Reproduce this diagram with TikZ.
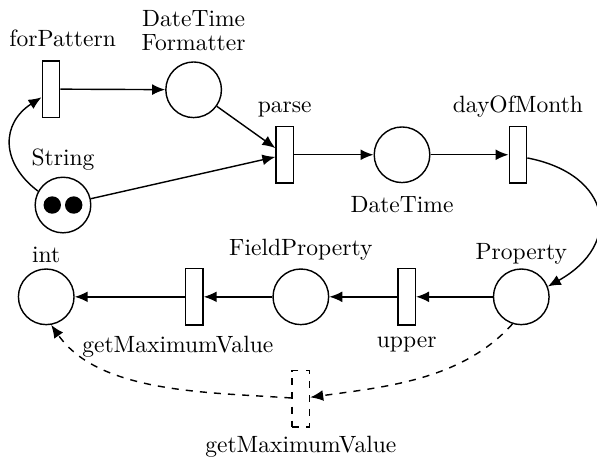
\documentclass[tikz,border=0pt]{standalone}
\usepackage{tikz}
\usetikzlibrary{positioning,arrows.meta}
\tikzset{
every picture/.style={
line width=0.6pt
}}

\begin{document}
\begin{tikzpicture}[auto, >={Latex[length=5.5pt,width=4.6pt]}, node distance=2pt,
place/.style = {circle, draw=black, minimum size=0.83cm, inner sep=0pt},
trans/.style = {rectangle, draw=black, minimum width=0.26cm, minimum height=0.84cm, inner sep=0pt},
lbl/.style = {text depth=0pt, align=center}]
\useasboundingbox (0,0) rectangle (8.91,-6.82);
% upper row
\node[trans] at (0.76,-1.33) (fp) {};
\node[place] at (2.89,-1.34) (dtf) {};
\node[place] at (0.94,-3.06) (str) {};
\node[trans] at (4.25,-2.31) (parse) {};
\node[place] at (6.00,-2.31) (dt) {};
\node[trans] at (7.73,-2.31) (dom) {};
% lower row
\node[place] at (7.78,-4.43) (prop) {};
\node[trans] at (6.07,-4.43) (upper) {};
\node[place] at (4.49,-4.43) (fprop) {};
\node[trans] at (2.90,-4.43) (gmv) {};
\node[place] at (0.69,-4.43) (int) {};
\node[trans, dashed] at (4.49,-5.95) (gmvb) {};
% tokens
\fill ([xshift=-0.16cm]str.center) circle (0.13cm);
\fill ([xshift=0.16cm]str.center) circle (0.13cm);

\node[lbl] (fpl) [above=of fp, xshift=5pt] {forPattern};
\node[lbl] (dtfl) [above=1pt of dtf] {DateTime\\[-2pt]Formatter};
\node[lbl] (strl) [above=1pt of str] {String};
\node[lbl] (parsel) [above=of parse] {parse};
\node[lbl] (dtl) [below=of dt] {DateTime};
\node[lbl] (doml) [above=of dom] {dayOfMonth};
\node[lbl] (propl) [above=0pt of prop] {Property};
\node[lbl] (upperl) [below=1pt of upper] {upper};
\node[lbl] (fpropl) [above=of fprop] {FieldProperty};
\node[lbl] (gmvl) [below=1pt of gmv, xshift=-7pt] {getMaximumValue};
\node[lbl] (intl) [above=-1pt of int] {int};
\node[lbl] (gmvbl) [below=0pt of gmvb] {getMaximumValue};

\draw[->] (str) to[bend left=55, looseness=1.3] (fp);
\draw[->] (fp) -- (dtf);
\draw[->] (dtf) -- (parse);
\draw[->] (str) -- (parse);
\draw[->] (parse) -- (dt);
\draw[->] (dt) -- (dom);
\draw[->] (dom) to[bend left=70, looseness=1.7] (prop);
\draw[->] (prop) -- (upper);
\draw[->] (upper) -- (fprop);
\draw[->] (fprop) -- (gmv);
\draw[->] (gmv) -- (int);
\draw[->, dashed] (prop.252) to[out=228, in=8, looseness=0.9] (gmvb);
\draw[->, dashed] (gmvb) to[out=176, in=-55, looseness=0.85] (int.280);
\end{tikzpicture}
\end{document}
